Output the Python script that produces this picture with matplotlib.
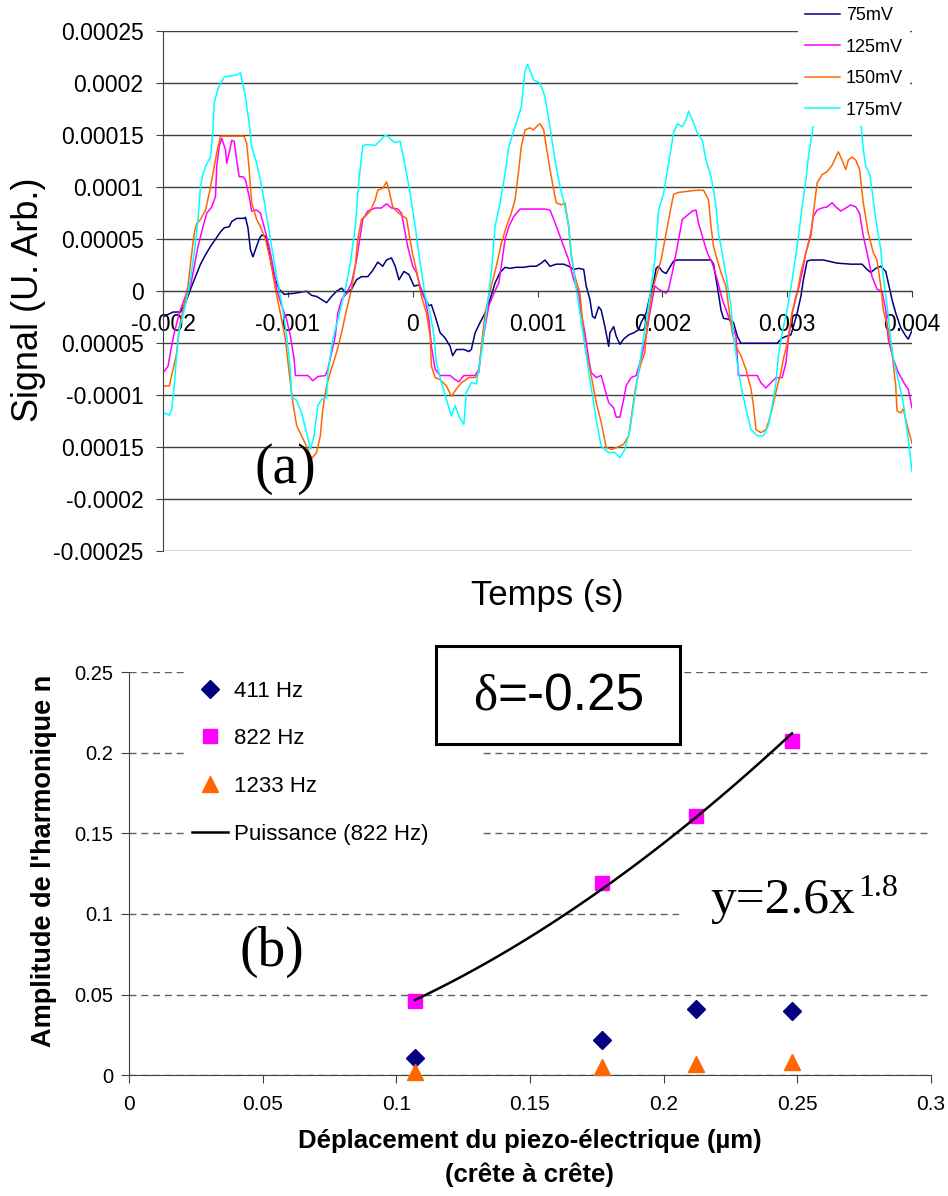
import numpy as np
import matplotlib.pyplot as plt
from matplotlib.patches import Rectangle

plt.rcParams['font.family'] = ['Liberation Sans', 'DejaVu Sans']
plt.rcParams['axes.unicode_minus'] = False

# -------- (a) signals : time in ms, signal in units of 1e-5 --------
t_75 = [-1.99, -1.92, -1.86, -1.82, -1.78, -1.74, -1.70, -1.66, -1.62, -1.58, -1.54, -1.51,
        -1.47, -1.45, -1.41, -1.35, -1.34, -1.32, -1.30, -1.28, -1.26, -1.23, -1.21, -1.18,
        -1.15, -1.13, -1.10, -1.07, -1.03, -0.95, -0.90, -0.85, -0.81, -0.77, -0.73, -0.69,
        -0.65, -0.61, -0.57, -0.53, -0.49, -0.45, -0.41, -0.36, -0.32, -0.28, -0.24, -0.21,
        -0.17, -0.14, -0.11, -0.07, -0.03, 0.01, 0.05, 0.09, 0.13, 0.15, 0.18, 0.22, 0.26,
        0.30, 0.32, 0.35, 0.41, 0.45, 0.47, 0.50, 0.54, 0.58, 0.62, 0.66, 0.70, 0.74, 0.78,
        0.83, 0.89, 0.94, 0.99, 1.03, 1.06, 1.10, 1.15, 1.21, 1.25, 1.29, 1.33, 1.37, 1.39,
        1.42, 1.44, 1.46, 1.49, 1.51, 1.54, 1.57, 1.58, 1.61, 1.63, 1.66, 1.69, 1.73, 1.77,
        1.81, 1.83, 1.87, 1.90, 1.93, 1.95, 1.97, 2.00, 2.03, 2.05, 2.09, 2.12, 2.23, 2.33,
        2.39, 2.41, 2.44, 2.47, 2.49, 2.53, 2.57, 2.60, 2.63, 2.71, 2.81, 2.92, 2.96, 3.00,
        3.03, 3.05, 3.08, 3.11, 3.13, 3.16, 3.19, 3.29, 3.40, 3.51, 3.60, 3.64, 3.67, 3.71,
        3.75, 3.79, 3.81, 3.84, 3.87, 3.91, 3.95, 3.97, 4.00]
s_75 = [-2.4, -2.0, -2.0, -1.1, 0.2, 1.4, 2.6, 3.5, 4.3, 5.0, 5.7, 6.1,
        6.2, 6.7, 7.0, 7.0, 7.1, 6.1, 4.0, 3.3, 4.0, 5.0, 5.4, 5.3,
        3.7, 2.4, 1.1, 0.2, -0.3, -0.2, -0.1, 0.0, -0.4, -0.5, -0.8, -1.1,
        -0.5, 0.0, 0.3, -0.2, 0.2, 1.1, 1.4, 1.4, 2.0, 2.8, 2.4, 3.0,
        3.2, 2.4, 1.1, 1.9, 1.6, 0.5, 0.6, -0.5, -1.4, -1.3, -2.4, -4.0, -4.5,
        -5.3, -6.2, -5.6, -5.6, -5.8, -5.6, -4.0, -3.0, -2.1, -0.8, 0.8, 1.8, 2.3, 2.2,
        2.3, 2.3, 2.4, 2.4, 2.7, 3.0, 2.4, 2.6, 2.6, 2.4, 2.1, 2.2, 2.1, 0.5,
        -0.8, -2.4, -2.6, -1.5, -1.8, -3.4, -5.3, -4.0, -3.4, -4.3, -5.1, -4.6, -4.2, -4.0,
        -3.7, -3.0, -2.1, -0.5, 0.8, 2.2, 2.4, 1.9, 1.7, 2.1, 2.9, 3.0, 3.0, 3.0,
        3.0, 2.6, 0.5, -1.8, -2.6, -2.7, -3.0, -4.3, -5.0, -5.0, -5.0, -5.0, -4.5, -4.3,
        -4.2, -3.4, -2.1, -0.5, 1.1, 2.9, 3.0, 3.0, 2.7, 2.6, 2.6, 2.1, 1.8, 2.2,
        2.4, 1.9, 0.8, -0.8, -2.1, -3.5, -4.3, -4.6, -3.8]

t_125 = [-1.99, -1.96, -1.94, -1.91, -1.87, -1.83, -1.80, -1.78, -1.75, -1.72, -1.68, -1.65,
         -1.61, -1.58, -1.57, -1.55, -1.53, -1.50, -1.49, -1.47, -1.45, -1.43, -1.41, -1.39,
         -1.36, -1.34, -1.31, -1.29, -1.25, -1.22, -1.19, -1.15, -1.11, -1.09, -1.05, -1.01,
         -0.98, -0.95, -0.94, -0.90, -0.84, -0.80, -0.76, -0.70, -0.68, -0.65, -0.62, -0.60,
         -0.57, -0.53, -0.49, -0.45, -0.42, -0.40, -0.36, -0.30, -0.25, -0.21, -0.17, -0.12,
         -0.09, -0.07, -0.04, 0.00, 0.03, 0.06, 0.10, 0.13, 0.15, 0.18, 0.22, 0.30, 0.34,
         0.37, 0.41, 0.50, 0.53, 0.55, 0.58, 0.61, 0.65, 0.69, 0.71, 0.74, 0.77, 0.81, 0.86,
         0.93, 0.99, 1.06, 1.10, 1.13, 1.17, 1.21, 1.25, 1.29, 1.33, 1.35, 1.38, 1.41, 1.43,
         1.47, 1.51, 1.54, 1.57, 1.61, 1.63, 1.66, 1.69, 1.71, 1.75, 1.79, 1.83, 1.87, 1.90,
         1.94, 1.97, 2.03, 2.05, 2.08, 2.12, 2.16, 2.20, 2.24, 2.27, 2.29, 2.32, 2.36, 2.40,
         2.44, 2.48, 2.52, 2.56, 2.59, 2.61, 2.68, 2.76, 2.79, 2.83, 2.87, 2.91, 2.96, 2.99,
         3.01, 3.04, 3.07, 3.09, 3.12, 3.15, 3.19, 3.21, 3.24, 3.28, 3.32, 3.36, 3.39, 3.43,
         3.47, 3.51, 3.55, 3.58, 3.61, 3.64, 3.68, 3.72, 3.76, 3.79, 3.81, 3.85, 3.89, 3.95,
         3.97, 4.00]
s_125 = [-7.7, -7.2, -5.8, -4.0, -2.1, -0.8, 0.2, 0.5, 2.4, 4.3, 6.2, 7.5,
         8.1, 9.1, 12.0, 13.9, 14.7, 13.6, 12.3, 13.3, 14.5, 14.4, 12.6, 11.0,
         11.0, 10.7, 9.1, 7.7, 7.8, 7.5, 6.2, 4.3, 1.8, 0.2, -1.4, -2.7,
         -4.3, -6.5, -8.1, -8.1, -8.1, -8.6, -8.2, -8.1, -7.5, -5.9, -4.3, -2.1,
         -0.8, -0.2, 0.8, 3.0, 5.3, 6.9, 7.7, 8.0, 8.0, 8.4, 8.0, 7.9,
         7.5, 6.2, 4.3, 2.4, 1.8, 0.5, -0.8, -2.7, -5.3, -7.5, -8.1, -8.1, -8.5,
         -8.7, -8.1, -8.1, -7.5, -5.6, -3.4, -1.4, -0.2, 0.8, 2.4, 5.0, 6.2, 7.2, 7.9,
         7.9, 7.9, 7.9, 7.8, 6.9, 5.6, 4.3, 3.0, 1.1, -0.2, -2.1, -4.0, -6.5, -7.8,
         -8.3, -8.1, -9.4, -10.7, -11.2, -12.1, -12.1, -10.4, -9.1, -8.3, -8.1, -6.5, -4.3, -2.1,
         0.5, 0.2, -0.2, 0.2, 1.8, 4.3, 6.9, 7.3, 7.7, 7.8, 6.5, 5.3, 3.7, 2.7,
         1.1, -0.8, -2.1, -3.4, -4.3, -8.1, -8.1, -8.1, -8.8, -9.3, -8.8, -8.3, -8.3, -6.9,
         -4.6, -2.1, -0.5, 0.2, 1.8, 3.7, 5.6, 7.2, 7.8, 8.0, 8.1, 8.5, 8.1, 7.7,
         8.0, 8.3, 8.1, 7.5, 5.3, 3.7, 1.4, 0.2, 0.0, -1.8, -4.6, -6.5, -7.8, -9.1,
         -9.4, -11.2]

t_150 = [-1.99, -1.95, -1.92, -1.89, -1.87, -1.84, -1.80, -1.78, -1.75, -1.73, -1.70, -1.66,
         -1.63, -1.60, -1.57, -1.54, -1.48, -1.41, -1.35, -1.33, -1.31, -1.29, -1.25, -1.22,
         -1.18, -1.14, -1.10, -1.06, -1.02, -0.99, -0.96, -0.93, -0.89, -0.85, -0.81, -0.77,
         -0.74, -0.72, -0.69, -0.66, -0.61, -0.57, -0.53, -0.49, -0.46, -0.44, -0.41, -0.38,
         -0.34, -0.30, -0.28, -0.24, -0.21, -0.19, -0.16, -0.13, -0.09, -0.05, -0.03, 0.00,
         0.03, 0.07, 0.11, 0.14, 0.15, 0.18, 0.22, 0.27, 0.31, 0.35, 0.39, 0.45, 0.50, 0.53,
         0.55, 0.58, 0.61, 0.63, 0.67, 0.71, 0.75, 0.79, 0.82, 0.85, 0.87, 0.90, 0.94, 0.97,
         0.99, 1.02, 1.05, 1.07, 1.10, 1.13, 1.15, 1.19, 1.22, 1.25, 1.27, 1.30, 1.34, 1.37,
         1.39, 1.43, 1.47, 1.51, 1.55, 1.59, 1.64, 1.69, 1.73, 1.75, 1.78, 1.81, 1.83, 1.86,
         1.87, 1.90, 1.93, 1.95, 1.99, 2.01, 2.04, 2.07, 2.09, 2.13, 2.20, 2.27, 2.33, 2.37,
         2.39, 2.41, 2.44, 2.47, 2.51, 2.53, 2.56, 2.59, 2.63, 2.67, 2.71, 2.73, 2.75, 2.79,
         2.83, 2.85, 2.88, 2.91, 2.95, 2.97, 3.00, 3.04, 3.08, 3.11, 3.15, 3.19, 3.21, 3.24,
         3.28, 3.32, 3.36, 3.39, 3.41, 3.44, 3.47, 3.49, 3.52, 3.55, 3.58, 3.61, 3.65, 3.69,
         3.72, 3.75, 3.77, 3.81, 3.84, 3.87, 3.88, 3.91, 3.93, 3.97, 4.00]
s_150 = [-9.1, -9.1, -7.5, -5.9, -3.4, -1.8, 0.5, 2.7, 5.6, 6.5, 6.9, 7.8,
         9.4, 11.3, 13.3, 14.9, 14.9, 14.9, 14.9, 14.2, 11.7, 8.5, 6.9, 6.2,
         5.0, 3.0, 0.2, -2.1, -4.6, -7.8, -10.7, -12.9, -13.9, -14.9, -16.1, -15.5,
         -13.9, -11.3, -9.1, -7.8, -5.9, -4.0, -1.8, 0.2, 2.4, 5.0, 6.9, 7.2,
         7.7, 8.8, 9.7, 9.9, 10.5, 9.7, 8.1, 7.7, 7.3, 7.0, 5.6, 3.5,
         2.0, -0.5, -2.1, -4.3, -7.2, -8.3, -8.5, -9.1, -10.1, -9.4, -8.8, -8.3, -8.3, -7.8,
         -5.3, -2.1, -0.5, 0.5, 2.4, 4.6, 6.2, 7.5, 8.8, 11.7, 13.9, 15.5, 15.7, 15.5,
         15.8, 16.1, 15.5, 13.9, 11.7, 9.7, 8.5, 8.3, 8.5, 6.2, 3.4, 1.4, -0.2, -4.0,
         -5.9, -8.1, -10.7, -12.6, -15.0, -15.2, -15.0, -14.7, -13.9, -12.3, -9.7, -7.8, -6.9, -5.9,
         -4.3, -1.4, 0.5, 1.4, 3.0, 4.3, 6.2, 8.1, 9.3, 9.5, 9.6, 9.7, 9.7, 8.8,
         6.2, 4.3, 3.0, 1.8, 0.5, -1.4, -4.0, -5.3, -6.2, -7.5, -9.4, -11.0, -13.3, -13.6,
         -13.3, -12.6, -11.3, -9.7, -7.8, -6.5, -5.0, -2.1, -0.2, 1.8, 3.7, 5.3, 7.5, 10.4,
         11.2, 11.5, 12.1, 12.9, 13.4, 12.6, 11.7, 12.6, 12.9, 12.6, 11.7, 8.5, 5.6, 3.7,
         3.0, 0.5, -1.8, -3.7, -5.9, -9.1, -11.5, -11.7, -11.3, -13.3, -14.6]

t_175 = [-1.99, -1.95, -1.93, -1.91, -1.89, -1.87, -1.83, -1.79, -1.75, -1.72, -1.70, -1.68,
         -1.66, -1.62, -1.60, -1.59, -1.56, -1.51, -1.45, -1.41, -1.38, -1.37, -1.34, -1.31,
         -1.29, -1.25, -1.21, -1.17, -1.13, -1.09, -1.05, -1.01, -0.98, -0.97, -0.93, -0.89,
         -0.85, -0.82, -0.79, -0.76, -0.73, -0.69, -0.68, -0.64, -0.58, -0.54, -0.50, -0.46,
         -0.43, -0.40, -0.36, -0.30, -0.26, -0.22, -0.19, -0.15, -0.10, -0.07, -0.03, 0.02,
         0.06, 0.10, 0.14, 0.17, 0.19, 0.23, 0.27, 0.31, 0.34, 0.37, 0.41, 0.43, 0.47, 0.51,
         0.55, 0.59, 0.63, 0.66, 0.70, 0.74, 0.77, 0.82, 0.87, 0.90, 0.92, 0.94, 0.97, 1.02,
         1.06, 1.10, 1.14, 1.18, 1.22, 1.25, 1.27, 1.30, 1.34, 1.38, 1.42, 1.47, 1.51, 1.57,
         1.62, 1.66, 1.70, 1.74, 1.78, 1.82, 1.86, 1.90, 1.94, 1.97, 2.01, 2.05, 2.09, 2.12,
         2.16, 2.19, 2.21, 2.24, 2.28, 2.32, 2.35, 2.39, 2.41, 2.43, 2.45, 2.49, 2.52, 2.55,
         2.57, 2.60, 2.63, 2.67, 2.71, 2.76, 2.81, 2.85, 2.88, 2.91, 2.93, 2.96, 3.00, 3.04,
         3.08, 3.12, 3.15, 3.17, 3.20, 3.21, 3.28, 3.40, 3.52, 3.59, 3.61, 3.63, 3.66, 3.68,
         3.71, 3.75, 3.77, 3.80, 3.83, 3.85, 3.89, 3.93, 3.97, 4.00]
s_175 = [-11.7, -11.9, -11.3, -9.1, -5.9, -3.7, -1.8, 0.5, 3.7, 6.9, 10.1, 11.3,
         12.0, 12.9, 15.5, 18.1, 19.5, 20.6, 20.7, 20.8, 21.0, 20.4, 18.7, 16.1,
         13.9, 12.3, 10.1, 7.2, 4.3, 1.4, -1.1, -4.3, -7.5, -10.1, -10.5, -11.7,
         -13.6, -15.2, -13.9, -11.0, -10.4, -10.2, -7.8, -4.6, -1.8, 0.2, 2.7, 6.2,
         10.7, 14.0, 14.1, 14.0, 14.5, 15.0, 14.8, 14.3, 14.4, 12.6, 10.1, 6.2,
         2.7, -0.5, -2.1, -4.3, -6.9, -8.8, -10.4, -12.0, -11.0, -12.0, -12.8, -9.7, -8.8, -8.9,
         -5.9, -2.1, 1.8, 6.2, 8.5, 11.3, 13.9, 15.8, 17.7, 21.2, 21.8, 21.2, 20.3, 20.0,
         18.7, 15.8, 12.6, 10.1, 8.1, 6.2, 3.7, 1.1, -2.1, -5.3, -8.5, -12.3, -14.9, -15.5,
         -15.5, -16.0, -15.2, -13.3, -10.1, -6.9, -3.7, -0.5, 3.0, 7.8, 9.4, 12.3, 15.2, 16.1,
         15.8, 16.5, 17.3, 16.5, 15.2, 14.5, 12.6, 11.0, 9.7, 8.1, 5.6, 3.0, 0.8, -1.4,
         -4.3, -6.9, -9.1, -11.3, -13.3, -13.9, -13.9, -12.9, -11.0, -8.8, -6.2, -4.0, -1.8, 1.1,
         4.3, 8.1, 10.7, 12.9, 15.2, 16.3, 19.5, 21.0, 19.5, 16.3, 13.6, 12.0, 11.3, 9.7,
         6.9, 4.0, 1.4, -1.4, -4.6, -6.5, -8.5, -10.7, -14.2, -17.3]

signal_labels = ['75mV', '125mV', '150mV', '175mV']
signal_colors = ['#000080', '#FF00FF', '#FF6600', '#00FFFF']
xticks_a = ['-0.002', '-0.001', '0', '0.001', '0.002', '0.003', '0.004']
yticks_a = ['-0.00025', '-0.0002', '0.00015', '-0.0001', '0.00005', '0',
            '0.00005', '0.0001', '0.00015', '0.0002', '0.00025']

# -------- (b) harmonics --------
disp = [0.107, 0.177, 0.212, 0.248]
amp_411 = [0.0105, 0.022, 0.041, 0.040]
amp_822 = [0.046, 0.119, 0.161, 0.207]
amp_1233 = [0.002, 0.005, 0.007, 0.008]

fig = plt.figure(figsize=(9.48, 11.96), dpi=100)

# ================= (a) =================
ax1 = fig.add_axes([0.172, 0.539, 0.790, 0.435])
curves = [(t_75, s_75), (t_125, s_125), (t_150, s_150), (t_175, s_175)]
for (t, s), lab, col in zip(curves, signal_labels, signal_colors):
    ax1.plot(np.array(t) * 1e-3, np.array(s) * 1e-5, color=col, lw=1.1, label=lab)

ax1.set_xlim(-0.002, 0.004)
ax1.set_ylim(-0.00025, 0.00025)
ax1.set_xticks(np.linspace(-0.002, 0.004, 7))
ax1.set_xticklabels(xticks_a)
ax1.set_yticks(np.linspace(-0.00025, 0.00025, 11))
ax1.set_yticklabels(yticks_a)
ax1.spines['top'].set_visible(False)
ax1.spines['right'].set_visible(False)
ax1.spines['bottom'].set_position(('data', 0))
for sp in ('left', 'bottom'):
    ax1.spines[sp].set_color('#404040')
ax1.yaxis.grid(True, color='#404040', lw=1.0)
ax1.set_axisbelow(True)
ax1.tick_params(axis='x', length=4.5, pad=11, labelsize=16.5, color='#404040')
ax1.tick_params(axis='y', length=5, pad=9, labelsize=16.5, color='#404040')

ax1.set_ylabel('Signal (U. Arb.)', fontsize=26, va='center')
ax1.yaxis.set_label_coords(-0.179, 0.483)
ax1.set_xlabel('Temps (s)', fontsize=25, va='center')
ax1.xaxis.set_label_coords(0.513, -0.085)

ax1.text(-0.00102, -0.000171, '(a)', family='Liberation Serif', fontsize=40,
         ha='center', va='center')

ax1.legend(loc='upper right', bbox_to_anchor=(910 / 948, 1.0),
           bbox_transform=fig.transFigure, frameon=True, fancybox=False,
           facecolor='white', edgecolor='none', framealpha=1, fontsize=13,
           handlelength=1.95, handletextpad=0.3, labelspacing=0.8,
           borderaxespad=0, borderpad=0.4)

# ================= (b) =================
ax2 = fig.add_axes([0.136, 0.101, 0.846, 0.337])
ax2.plot(disp, amp_411, ls='none', marker='D', ms=9, color='#000080',
         label='411 Hz', clip_on=False, zorder=4)
ax2.plot(disp, amp_822, ls='none', marker='s', ms=10, color='#FF00FF',
         label='822 Hz', clip_on=False, zorder=4)
ax2.plot(disp, amp_1233, ls='none', marker='^', ms=11, color='#FF6600',
         label='1233 Hz', clip_on=False, zorder=4)

# power-law trend line fitted on the 822 Hz points
b, a = np.polyfit(np.log(disp), np.log(amp_822), 1)
xf = np.linspace(min(disp), max(disp), 60)
ax2.plot(xf, np.exp(a) * xf ** b, color='black', lw=1.8,
         label='Puissance (822 Hz)', zorder=5)

ax2.set_xlim(0, 0.3)
ax2.set_ylim(0, 0.25)
ax2.set_xticks(np.linspace(0, 0.3, 7))
ax2.set_xticklabels(['0', '0.05', '0.1', '0.15', '0.2', '0.25', '0.3'])
ax2.set_yticks(np.linspace(0, 0.25, 6))
ax2.set_yticklabels(['0', '0.05', '0.1', '0.15', '0.2', '0.25'])
ax2.spines['top'].set_visible(False)
ax2.spines['right'].set_visible(False)
for sp in ('left', 'bottom'):
    ax2.spines[sp].set_color('#404040')
ax2.yaxis.grid(True, color='#606060', lw=1.0, ls=(0, (5, 3.5)))
ax2.set_axisbelow(True)
ax2.tick_params(axis='x', length=5.5, pad=9, labelsize=15, color='#404040')
ax2.tick_params(axis='y', length=5.5, pad=6, labelsize=14.5, color='#404040')

ax2.set_ylabel("Amplitude de l'harmonique n", fontsize=19.5, fontweight='bold', va='center')
ax2.yaxis.set_label_coords(-0.106, 0.533)
ax2.set_xlabel('Déplacement du piezo-électrique (µm)\n(crête à crête)', fontsize=18.5,
               fontweight='bold', va='center', linespacing=1.5)
ax2.xaxis.set_label_coords(0.5, -0.206)

# white areas hiding the grid behind legend / annotations
ax2.add_patch(Rectangle((0.07, 0.558), 0.37, 0.5, transform=ax2.transAxes,
                        fc='white', ec='none', zorder=1, clip_on=False))
ax2.add_patch(Rectangle((0.686, 0.37), 0.33, 0.06, transform=ax2.transAxes,
                        fc='white', ec='none', zorder=1, clip_on=False))
ax2.add_patch(Rectangle((0.383, 0.821), 0.304, 0.243, transform=ax2.transAxes,
                        fc='white', ec='black', lw=2.2, zorder=3, clip_on=False))

ax2.text(0.459, 0.938, 'δ', transform=ax2.transAxes, family='Liberation Serif',
         fontsize=37, ha='right', va='center', zorder=6)
ax2.text(0.459, 0.938, '=-0.25', transform=ax2.transAxes, fontsize=37,
         ha='left', va='center', zorder=6)
ax2.text(0.906, 0.402, 'y=2.6x', transform=ax2.transAxes, family='Liberation Serif',
         fontsize=37, ha='right', va='baseline', zorder=6)
ax2.text(0.909, 0.444, '1.8', transform=ax2.transAxes, family='Liberation Serif',
         fontsize=23, ha='left', va='baseline', zorder=6)
ax2.text(0.178, 0.305, '(b)', transform=ax2.transAxes, family='Liberation Serif',
         fontsize=40, ha='center', va='center', zorder=6)

ax2.legend(loc='upper left', bbox_to_anchor=(192 / 948, 0.431),
           bbox_transform=fig.transFigure, frameon=False, fontsize=16,
           handlelength=1.6, handletextpad=0.3, labelspacing=1.2,
           borderaxespad=0, borderpad=0)

fig.savefig('out.png', dpi=100)
